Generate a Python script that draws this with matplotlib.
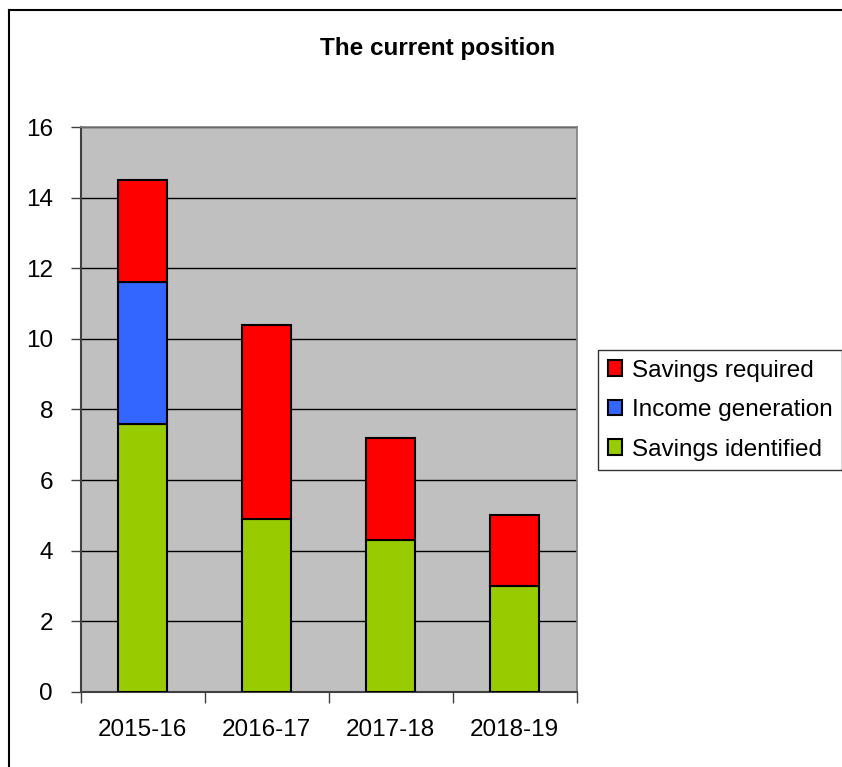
import numpy as np
import matplotlib
matplotlib.use("Agg")
import matplotlib.pyplot as plt
from matplotlib.lines import Line2D

plt.rcParams['font.family'] = ['Liberation Sans', 'DejaVu Sans']

years = ['2015-16', '2016-17', '2017-18', '2018-19']
savings_identified = [7.6, 4.9, 4.3, 3.0]
income_generation = [4.0, 0.0, 0.0, 0.0]
savings_required = [2.9, 5.5, 2.9, 2.0]

fig = plt.figure(figsize=(8.42, 7.67), dpi=100)
ax = fig.add_axes([0.0958, 0.0982, 0.589, 0.7359])
ax.set_facecolor('#C0C0C0')

x = np.arange(len(years))
w = 0.4
green = np.array(savings_identified)
blue = np.array(income_generation)
red = np.array(savings_required)

b1 = ax.bar(x, green, w, color='#99CC00', edgecolor='black', linewidth=1.5, zorder=3,
            label='Savings identified')
b2 = ax.bar(x[blue > 0], blue[blue > 0], w, bottom=green[blue > 0], color='#3366FF',
            edgecolor='black', linewidth=1.5, zorder=3, label='Income generation')
b3 = ax.bar(x, red, w, bottom=green + blue, color='#FF0000', edgecolor='black',
            linewidth=1.5, zorder=3, label='Savings required')

ax.set_xlim(-0.5, len(years) - 0.5)
ax.set_ylim(0, 16)
ax.set_yticks(np.arange(0, 17, 2))
ax.yaxis.grid(True, color='black', linewidth=1, zorder=1)
ax.set_axisbelow(True)

# category boundaries as major ticks, labels on minor ticks
ax.set_xticks(np.arange(-0.5, len(years), 1.0))
ax.set_xticklabels([])
ax.set_xticks(x, minor=True)
ax.set_xticklabels(years, minor=True, fontsize=17.5)
ax.tick_params(axis='x', which='major', length=8, width=1, color='#404040', direction='out')
ax.tick_params(axis='x', which='minor', length=0, pad=20)
ax.tick_params(axis='y', length=7, width=1, color='#404040', labelsize=17.5, pad=13)

for s in ['left', 'bottom']:
    ax.spines[s].set_color('#404040')
    ax.spines[s].set_linewidth(1.5)
for s in ['top', 'right']:
    ax.spines[s].set_color('#808080')
    ax.spines[s].set_linewidth(1.2)

fig.text(438 / 842, 1 - 48 / 767, 'The current position', ha='center', va='center',
         fontsize=17.5, fontweight='bold')

leg = fig.legend(handles=[b3, b2, b1], loc='upper left',
                 bbox_to_anchor=(598 / 842, 1 - 350 / 767), bbox_transform=fig.transFigure,
                 fontsize=17.5, frameon=True, fancybox=False, borderaxespad=0,
                 handlelength=0.6, handleheight=0.6, handletextpad=0.4,
                 labelspacing=0.72, borderpad=0.4)
leg.get_frame().set_edgecolor('black')
leg.get_frame().set_linewidth(1)

# outer chart border (left and top edges visible)
fig.add_artist(Line2D([9 / 842, 9 / 842], [0, 1 - 10 / 767], color='black', linewidth=1.5,
                      transform=fig.transFigure))
fig.add_artist(Line2D([9 / 842, 1], [1 - 10 / 767, 1 - 10 / 767], color='black', linewidth=1.5,
                      transform=fig.transFigure))

fig.savefig('out.png', dpi=100)
